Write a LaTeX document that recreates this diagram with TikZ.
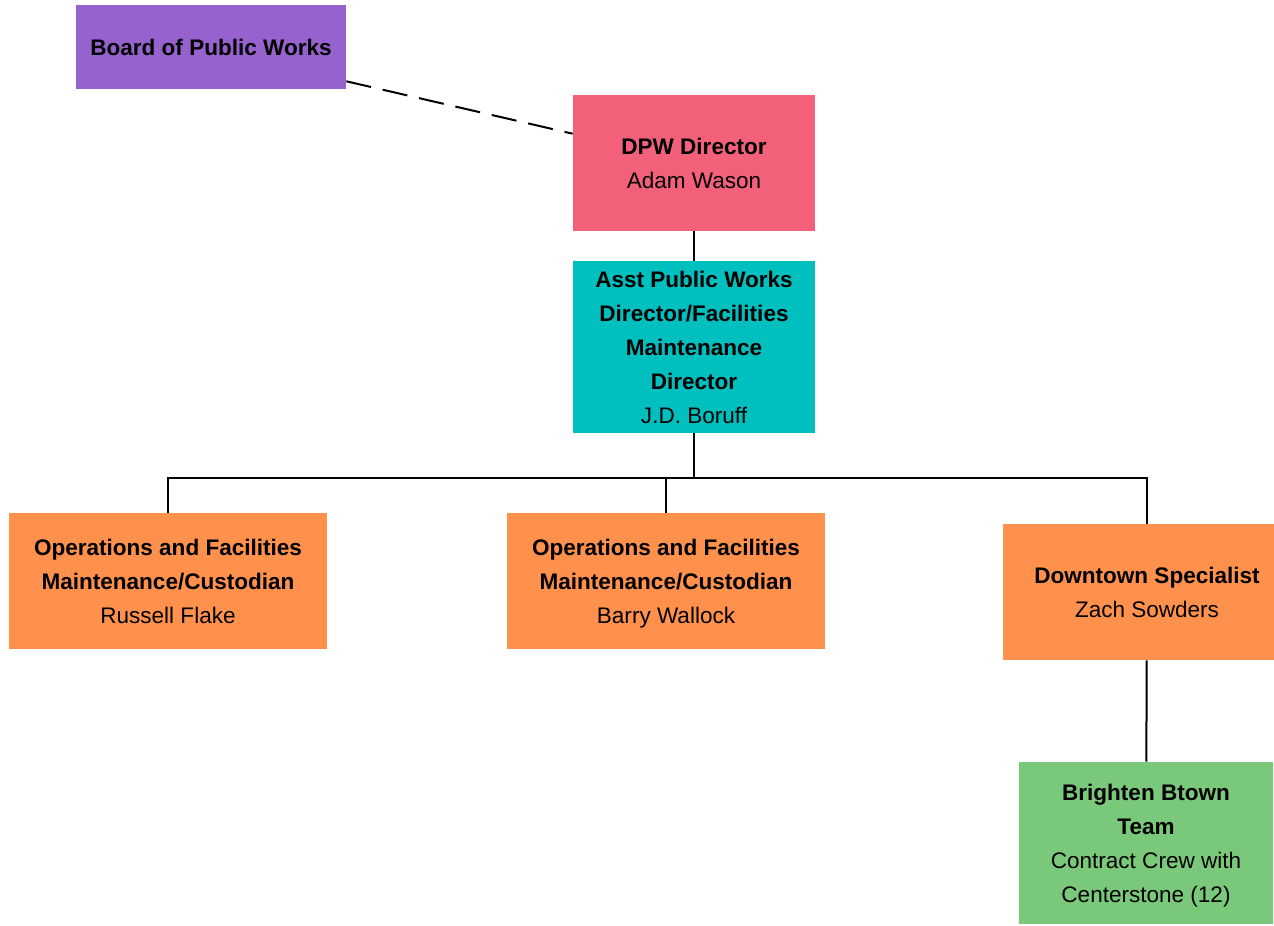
\documentclass[tikz,border=0pt]{standalone}
\usepackage{fontspec}
\setmainfont{Liberation Sans}
\usetikzlibrary{calc}
\definecolor{boardpurple}{RGB}{150,98,206}
\definecolor{dirpink}{RGB}{242,96,122}
\definecolor{asstteal}{RGB}{0,191,191}
\definecolor{opsorange}{RGB}{255,145,77}
\definecolor{teamgreen}{RGB}{122,201,122}
\begin{document}
\begin{tikzpicture}[x=0.75pt, y=-0.75pt, every node/.style={rectangle, inner sep=0pt, align=center, text depth=0pt, font=\fontsize{16.9}{25.5}\selectfont}, line/.style={line width=1.5pt}]
\useasboundingbox (0,0) rectangle (1274,925);
\node (board) [fill=boardpurple, minimum width=202.5pt, minimum height=63pt] at (211,47) {\textbf{Board of Public Works}};
\node (dpw) [fill=dirpink, minimum width=181.5pt, minimum height=102pt] at (694,163) {\textbf{DPW Director}\\Adam Wason};
\node (asst) [fill=asstteal, minimum width=181.5pt, minimum height=129pt] at (694,347) {\textbf{Asst Public Works}\\\textbf{Director/Facilities}\\\textbf{Maintenance}\\\textbf{Director}\\J.D. Boruff};
\node (opsa) [fill=opsorange, minimum width=238.5pt, minimum height=102pt] at (168,581) {\textbf{Operations and Facilities}\\\textbf{Maintenance/Custodian}\\Russell Flake};
\node (opsb) [fill=opsorange, minimum width=238.5pt, minimum height=102pt] at (666,581) {\textbf{Operations and Facilities}\\\textbf{Maintenance/Custodian}\\Barry Wallock};
\node (down) [fill=opsorange, minimum width=216pt, minimum height=102pt] at (1147,592) {\textbf{Downtown Specialist}\\Zach Sowders};
\node (team) [fill=teamgreen, minimum width=190.5pt, minimum height=121.5pt] at (1146,843) {\textbf{Brighten Btown}\\\textbf{Team}\\Contract Crew with\\Centerstone (12)};
\coordinate (bus) at (694,478);

\draw[line, dash pattern=on 19pt off 9pt] ($(board.south east)+(0,-8)$) -- ($(dpw.north west)+(0,39)$);
\draw[line] (dpw) -- (asst);
\draw[line] (asst.south) -- (bus);
\draw[line] (opsa.north) |- (bus);
\draw[line] (opsb.north) |- (bus);
\draw[line] (down.north) |- (bus);
\draw[line] (down) -- (team);
\end{tikzpicture}
\end{document}
